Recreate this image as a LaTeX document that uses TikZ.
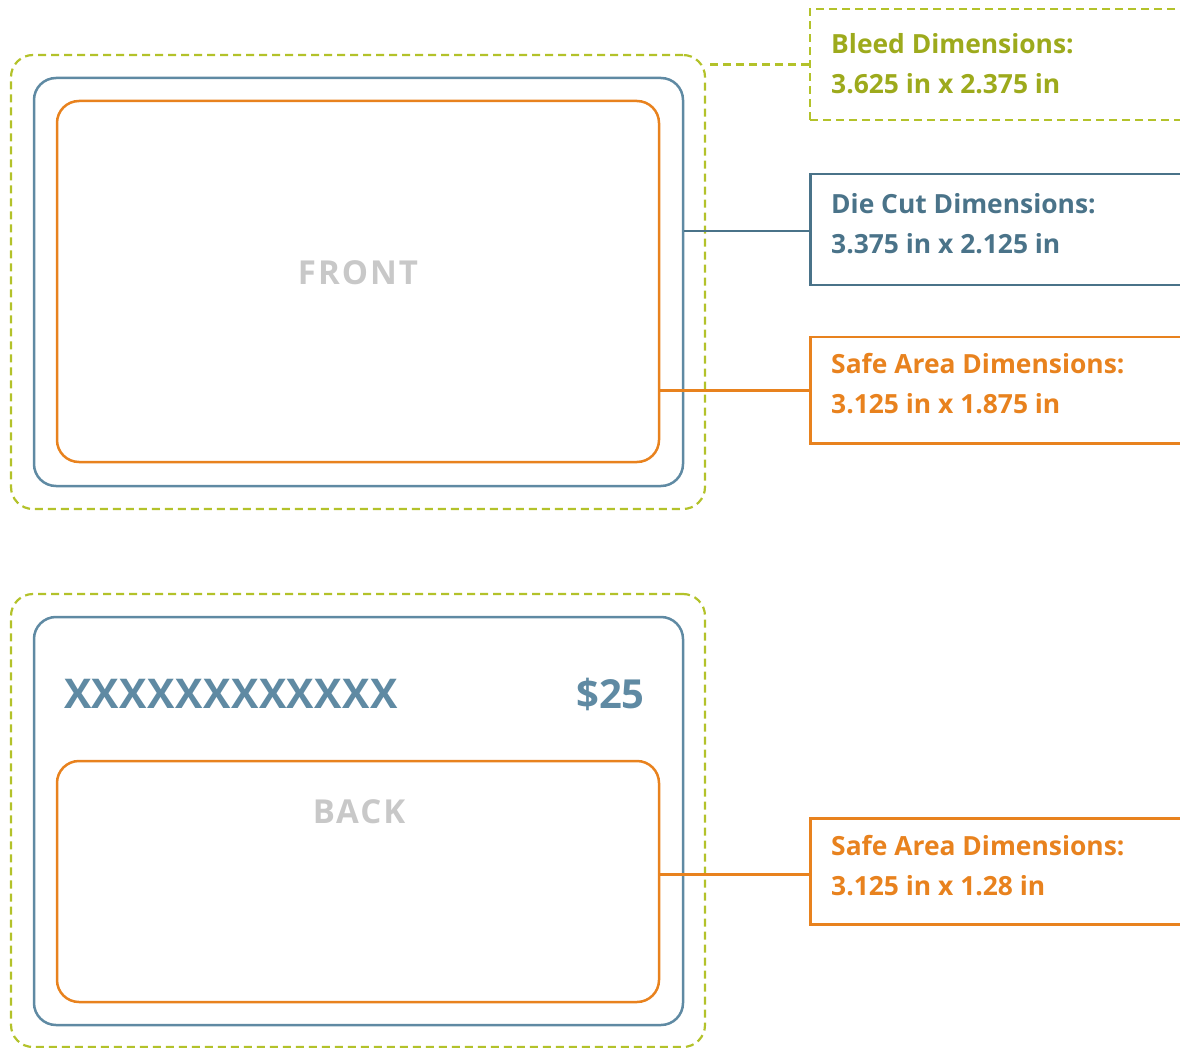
\documentclass[tikz,border=0pt]{standalone}
\usepackage{fontspec}
\setmainfont{Open Sans}
\definecolor{bleedc}{HTML}{B3C22A}
\definecolor{bleedt}{HTML}{9DAA1C}
\definecolor{diec}{HTML}{5F8AA3}
\definecolor{diet}{HTML}{4A7389}
\definecolor{safec}{HTML}{E8821E}
\definecolor{labelgray}{HTML}{C8C8C8}
\tikzset{
  bleedbox/.style={draw=bleedc, line width=2.2pt, dash pattern=on 8pt off 5pt, rounded corners=22pt, inner sep=0pt},
  diebox/.style={draw=diec, line width=2.5pt, rounded corners=22pt, inner sep=0pt},
  safebox/.style={draw=safec, line width=2.5pt, rounded corners=22pt, inner sep=0pt},
  callbox/.style={anchor=north west, minimum width=400pt, inner sep=0pt, line width=2.5pt},
  calltext/.style={anchor=west, inner sep=0pt, align=left,
     font=\bfseries\fontsize{26.4}{40}\selectfont},
  side/.style={font=\bfseries\fontsize{33}{36}\selectfont\addfontfeature{LetterSpace=6}, text=labelgray},
  cardtxt/.style={font=\bfseries\fontsize{41}{44}\selectfont, text=diec, inner sep=0pt},
}
\begin{document}
\begin{tikzpicture}[x=1pt,y=-1pt]
\clip (0,0) rectangle (1180,1048);
\useasboundingbox (0,0) rectangle (1180,1048);
% FRONT
\node[bleedbox, minimum width=694, minimum height=454] (bleedF) at (358,282) {};
\node[diebox, minimum width=649, minimum height=408] (dieF) at (358.5,282) {};
\node[safebox, minimum width=602, minimum height=361] (safeF) at (358,281.5) {};
\node[side] (front) at (358,273) {FRONT};
% callouts front
\node[callbox, draw=bleedc, dash pattern=on 8pt off 5pt, line width=2.2pt, minimum height=111] (cB) at (809,8) {};
\node[calltext, text=bleedt] (tB) at (831,64) {Bleed Dimensions:\\3.625 in x 2.375 in};
\node[callbox, draw=diet, minimum height=111] (cD) at (809,173) {};
\node[calltext, text=diet] (tD) at (831,224) {Die Cut Dimensions:\\3.375 in x 2.125 in};
\node[callbox, draw=safec, minimum height=106] (cS) at (809,336) {};
\node[calltext, text=safec] (tS) at (831,384) {Safe Area Dimensions:\\3.125 in x 1.875 in};
\draw[bleedc, line width=2.2pt, dash pattern=on 8pt off 5pt] (cB.west) -- (cB.west -| bleedF.east);
\draw[diet, line width=2.5pt] ([yshift=-1.5pt]cD.west) -- ([yshift=-1.5pt]cD.west -| dieF.east);
\draw[safec, line width=2.5pt] (cS.west) -- (cS.west -| safeF.east);
% BACK
\node[bleedbox, minimum width=694, minimum height=453] (bleedB) at (358,820.5) {};
\node[diebox, minimum width=649, minimum height=408] (dieB) at (358.5,821) {};
\node[safebox, minimum width=602, minimum height=241] (safeB) at (358,881.5) {};
\node[cardtxt, anchor=west, font=\bfseries\fontsize{41}{44}\selectfont\addfontfeature{LetterSpace=1.2}] (num) at (64,694) {XXXXXXXXXXXX};
\node[cardtxt, anchor=east, font=\bfseries\fontsize{40}{44}\selectfont] (amt) at (645,694) {\$25};
\node[side] (back) at (359,812) {BACK};
\node[callbox, draw=safec, minimum height=106] (cS2) at (809,817) {};
\node[calltext, text=safec] (tS2) at (831,866) {Safe Area Dimensions:\\3.125 in x 1.28 in};
\draw[safec, line width=2.5pt] ([yshift=-3pt]cS2.west) -- ([yshift=-3pt]cS2.west -| safeB.east);
\end{tikzpicture}
\end{document}
